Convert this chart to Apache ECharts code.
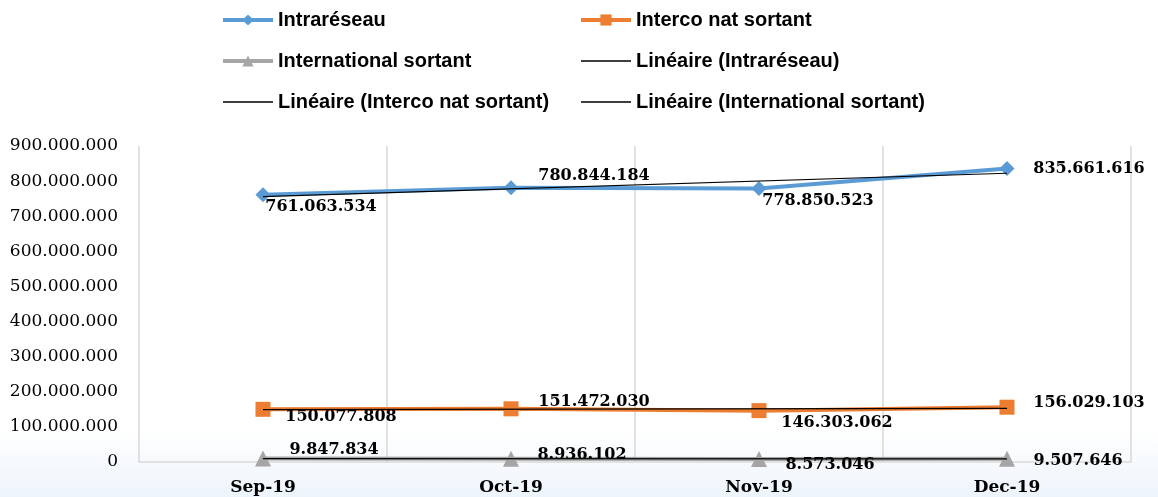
<!DOCTYPE html>
<html>
<head>
<meta charset="utf-8">
<script src="https://cdn.jsdelivr.net/npm/echarts@6/dist/echarts.min.js"></script>
<style>
  html, body { margin: 0; padding: 0; background: #fff; }
  #chart { width: 1158px; height: 497px; }
</style>
</head>
<body>
<div id="chart"></div>
<script>
// categories and values
const months = ["Sep-19", "Oct-19", "Nov-19", "Dec-19"];
const intraReseau = [761063534, 780844184, 778850523, 835661616];
const intercoNat = [150077808, 151472030, 146303062, 156029103];
const internationalSortant = [9847834, 8936102, 8573046, 9507646];

// trend lines (Linéaire), end points
const trendIntra = [755800000, null, null, 822400000];
const trendInterco = [149100000, null, null, 152900000];
const trendInternational = [9400000, null, null, 9000000];

const yTicks = { min: 0, max: 900000000, interval: 100000000 };

// label offsets from each point (px)
const intraOffsets = [[58, 12], [83, -12], [59, 12], [82, 0]];
const intercoOffsets = [[78, 8], [83, -7], [78, 12], [82, -4]];
const intlOffsets = [[71, -9], [71, -4], [71, 6], [71, 2]];

const fmt = (v) => String(v).replace(/\B(?=(\d{3})+(?!\d))/g, ".");

const withLabels = (values, offsets) =>
  values.map((v, i) => ({ value: v, label: { offset: offsets[i] } }));

const labelStyle = {
  show: true,
  position: "inside",
  fontFamily: "DejaVu Serif",
  fontWeight: "bold",
  fontSize: 16,
  color: "#000",
  formatter: (p) => fmt(p.value),
};

// thin line icon for the trend entries (tiny dots keep the box 50x14)
const thinLine =
  "path://M0,0L0.01,0L0.01,0.01Z M0,6.2L50,6.2L50,7.8L0,7.8Z M0,14L0.01,14L0.01,13.99Z";

const chart = echarts.init(document.getElementById("chart"));

const legendText = {
  fontFamily: "Liberation Sans",
  fontWeight: "bold",
  fontSize: 20,
  color: "#000",
};

const options = {
  animation: false,
  graphic: [
    {
      type: "rect",
      left: 0,
      top: 430,
      z: -10,
      shape: { width: 1158, height: 67 },
      style: {
        fill: new echarts.graphic.LinearGradient(0, 0, 0, 1, [
          { offset: 0, color: "#ffffff" },
          { offset: 1, color: "#edf4fb" },
        ]),
      },
    },
  ],
  legend: [
    {
      left: 216,
      top: 5,
      orient: "vertical",
      itemGap: 21,
      itemWidth: 50,
      itemHeight: 14,
      textStyle: legendText,
      data: [
        { name: "Intraréseau", lineStyle: { width: 4 } },
        { name: "International sortant", lineStyle: { width: 4 } },
        { name: "Linéaire (Interco nat sortant)", icon: thinLine, itemStyle: { color: "#000" } },
      ],
    },
    {
      left: 574,
      top: 5,
      orient: "vertical",
      itemGap: 21,
      itemWidth: 50,
      itemHeight: 14,
      textStyle: legendText,
      data: [
        { name: "Interco nat sortant", lineStyle: { width: 4 } },
        { name: "Linéaire (Intraréseau)", icon: thinLine, itemStyle: { color: "#000" } },
        { name: "Linéaire (International sortant)", icon: thinLine, itemStyle: { color: "#000" } },
      ],
    },
  ],
  grid: {
    left: 139,
    right: 27,
    top: 146,
    bottom: 35,
  },
  xAxis: {
    type: "category",
    data: months,
    boundaryGap: true,
    axisLine: { lineStyle: { color: "#d9d9d9", width: 1.5 } },
    axisTick: { show: false },
    splitLine: { show: true, lineStyle: { color: "#d9d9d9", width: 1.5 } },
    axisLabel: {
      margin: 17,
      fontFamily: "DejaVu Serif",
      fontWeight: "bold",
      fontSize: 17,
      color: "#000",
    },
  },
  yAxis: {
    type: "value",
    min: yTicks.min,
    max: yTicks.max,
    interval: yTicks.interval,
    axisLine: { show: false },
    axisTick: { show: false },
    splitLine: { show: false },
    axisLabel: {
      margin: 21,
      fontFamily: "DejaVu Serif",
      fontSize: 17,
      color: "#000",
      formatter: (v) => fmt(v),
    },
  },
  series: [
    {
      name: "Intraréseau",
      type: "line",
      data: withLabels(intraReseau, intraOffsets),
      symbol: "diamond",
      symbolSize: 15,
      color: "#5b9bd5",
      lineStyle: { width: 4, color: "#5b9bd5" },
      label: labelStyle,
      z: 3,
    },
    {
      name: "Interco nat sortant",
      type: "line",
      data: withLabels(intercoNat, intercoOffsets),
      symbol: "rect",
      symbolSize: 15,
      color: "#ed7d31",
      lineStyle: { width: 4, color: "#ed7d31" },
      label: labelStyle,
      z: 3,
    },
    {
      name: "International sortant",
      type: "line",
      data: withLabels(internationalSortant, intlOffsets),
      symbol: "triangle",
      symbolSize: 16,
      color: "#a5a5a5",
      lineStyle: { width: 4, color: "#a5a5a5" },
      label: labelStyle,
      z: 3,
    },
    {
      name: "Linéaire (Intraréseau)",
      type: "line",
      data: trendIntra,
      connectNulls: true,
      symbol: "none",
      color: "#000",
      lineStyle: { width: 1.2, color: "#000" },
      z: 4,
    },
    {
      name: "Linéaire (Interco nat sortant)",
      type: "line",
      data: trendInterco,
      connectNulls: true,
      symbol: "none",
      color: "#000",
      lineStyle: { width: 1.2, color: "#000" },
      z: 4,
    },
    {
      name: "Linéaire (International sortant)",
      type: "line",
      data: trendInternational,
      connectNulls: true,
      symbol: "none",
      color: "#000",
      lineStyle: { width: 1.2, color: "#000" },
      z: 4,
    },
  ],
};

chart.setOption(options);
</script>
</body>
</html>
